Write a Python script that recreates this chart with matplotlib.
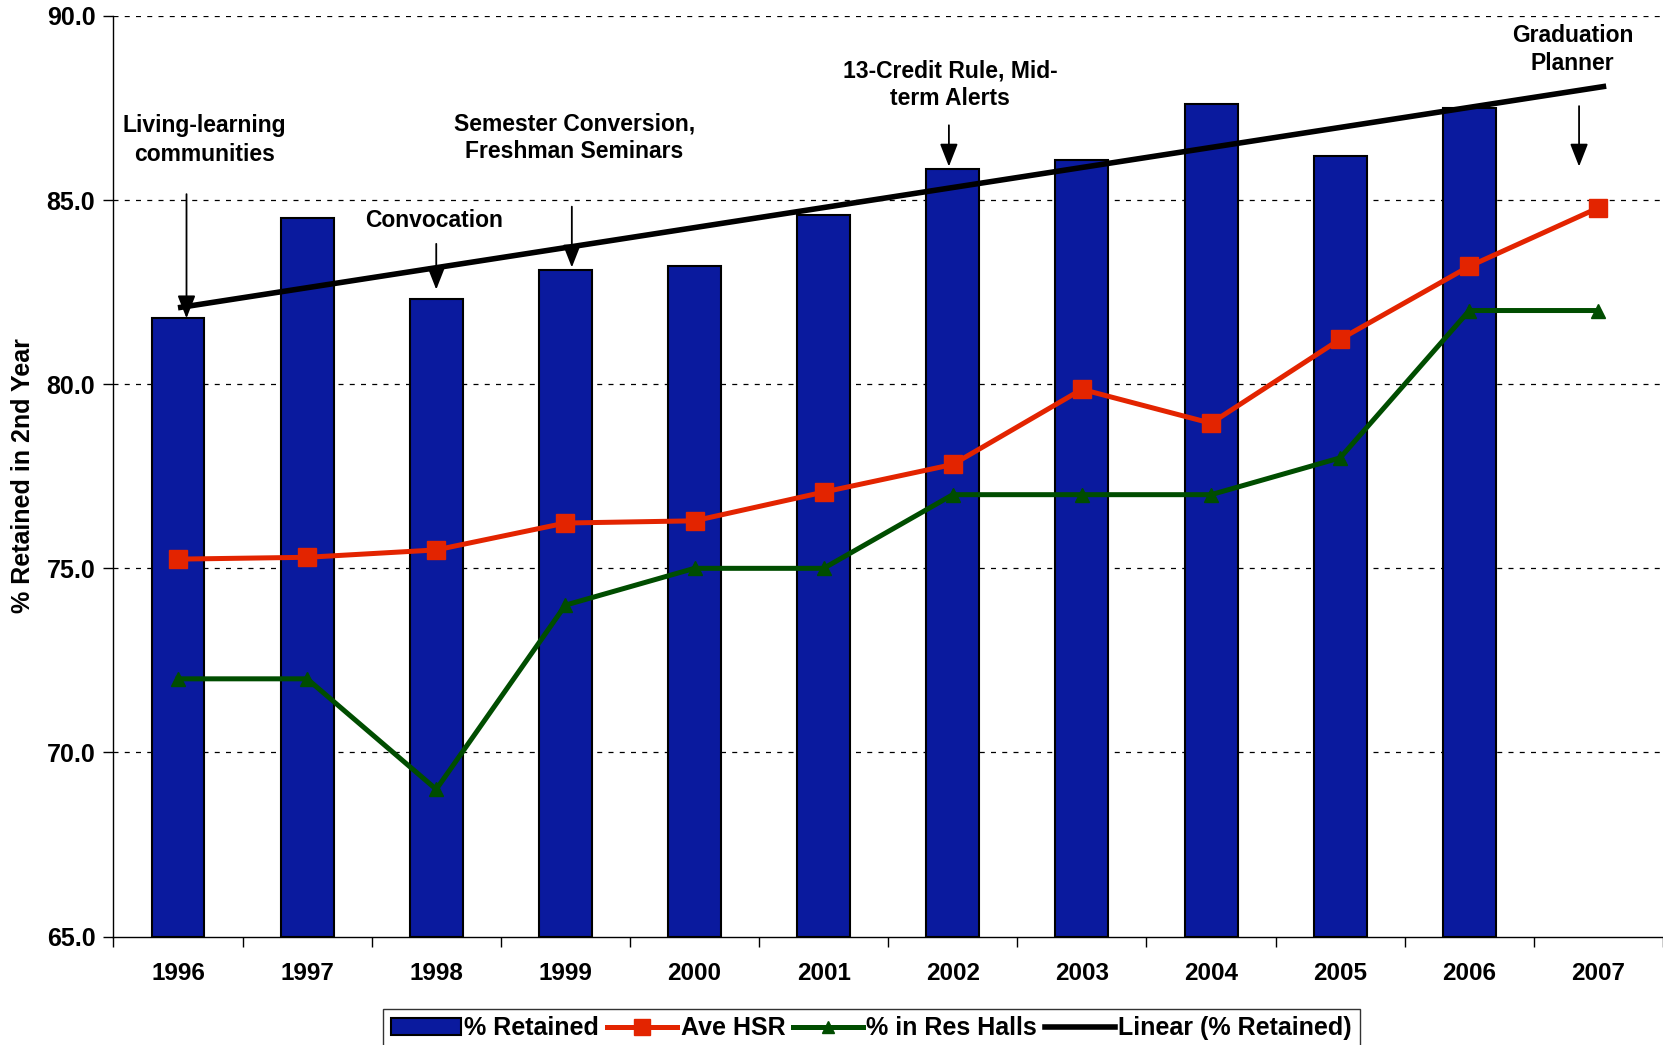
import matplotlib
matplotlib.use("Agg")
import matplotlib.pyplot as plt
import numpy as np
from matplotlib.patches import Patch
from matplotlib.lines import Line2D

plt.rcParams['font.family'] = ['Liberation Sans', 'DejaVu Sans']
plt.rcParams['font.weight'] = 'bold'

years = ['1996', '1997', '1998', '1999', '2000', '2001', '2002', '2003', '2004', '2005', '2006', '2007']
pct_retained = [81.8, 84.5, 82.3, 83.1, 83.2, 84.6, 85.85, 86.1, 87.6, 86.2, 87.5, np.nan]
ave_hsr = [75.25, 75.3, 75.5, 76.23, 76.29, 77.07, 77.82, 79.86, 78.94, 81.22, 83.2, 84.79]
res_halls = [72, 72, 69, 74, 75, 75, 77, 77, 77, 78, 82, 82]

annotations = [
    ("Living-learning\ncommunities", (0.205, 86.63), (0.066, 85.16), (0.066, 81.79)),
    ("Convocation", (1.98, 84.44), (2.0, 83.81), (2.0, 82.57)),
    ("Semester Conversion,\nFreshman Seminars", (3.07, 86.69), (3.05, 84.82), (3.05, 83.17)),
    ("13-Credit Rule, Mid-\nterm Alerts", (5.98, 88.13), (5.97, 87.03), (5.97, 85.91)),
    ("Graduation\nPlanner", (10.80, 89.08), (10.85, 87.55), (10.85, 85.91)),
]

BLUE = '#0A1A9E'
RED = '#E32400'
GREEN = '#004D00'

fig = plt.figure(figsize=(16.63, 10.45), dpi=100)
ax = fig.add_axes([0.0682, 0.1037, 0.9318, 0.8811])

x = np.arange(len(years))
vals = np.array(pct_retained, dtype=float)
mask = ~np.isnan(vals)
ax.bar(x[mask], vals[mask] - 65, bottom=65, width=0.41, color=BLUE, edgecolor='black', linewidth=1.5, zorder=2)

# linear trend of % Retained, extended to 2007
coef = np.polyfit(x[mask], vals[mask], 1)
xt = np.array([0, 11.06])
ax.plot(xt, np.polyval(coef, xt), color='black', lw=4, zorder=3, solid_capstyle='butt')

ax.plot(x, ave_hsr, color=RED, lw=3.6, marker='s', markersize=13, zorder=4)
ax.plot(x, res_halls, color=GREEN, lw=3.6, marker='^', markersize=10, zorder=4)

for txt, tpos, tail, tip in annotations:
    ax.text(tpos[0], tpos[1], txt, ha='center', va='center', fontsize=16.5, fontweight='bold',
            linespacing=1.3, zorder=5)
    ax.annotate('', xy=tip, xytext=tail,
                arrowprops=dict(arrowstyle='-|>,head_length=1.4,head_width=0.55', color='black', lw=1.3,
                                shrinkA=0, shrinkB=0), zorder=5)

ax.set_xlim(-0.5, 11.5)
ax.set_ylim(65, 90)
ax.set_yticks([65, 70, 75, 80, 85, 90])
ax.set_yticklabels([f"{v:.1f}" for v in [65, 70, 75, 80, 85, 90]], fontsize=18, fontweight='bold')
ax.set_xticks(x)
ax.set_xticklabels(years, fontsize=17.5, fontweight='bold')
ax.set_xticks(np.arange(-0.5, 12, 1), minor=True)
ax.tick_params(axis='x', which='major', length=0, pad=18)
ax.tick_params(axis='x', which='minor', length=7, width=1, direction='out')
ax.tick_params(axis='y', length=7, width=1, direction='out', pad=6)

for yv in [70, 75, 80, 85, 90]:
    ax.axhline(yv, color='black', lw=0.9, ls=(0, (4, 5)), zorder=1)

ax.spines['top'].set_visible(False)
ax.spines['right'].set_visible(False)
ax.spines['left'].set_linewidth(1)
ax.spines['bottom'].set_linewidth(1)

fig.text(0.014, 0.545, '% Retained in 2nd Year', rotation=90, ha='center', va='center', fontsize=18, fontweight='bold')

handles = [
    Patch(facecolor=BLUE, edgecolor='black', linewidth=1.5),
    Line2D([], [], color=RED, lw=3.6, marker='s', markersize=11),
    Line2D([], [], color=GREEN, lw=3.6, marker='^', markersize=9),
    Line2D([], [], color='black', lw=4),
]
labels = ['% Retained', 'Ave HSR', '% in Res Halls', 'Linear (% Retained)']
leg = fig.legend(handles, labels, ncol=4, loc='center', bbox_to_anchor=(0.524, 0.016),
                 frameon=True, fancybox=False, edgecolor='black', handlelength=2.8, handletextpad=0.15,
                 columnspacing=0.3, borderpad=0.3, prop={'weight': 'bold', 'size': 18})
leg.get_frame().set_linewidth(1.0)

fig.savefig('out.png', dpi=100, facecolor='white')
